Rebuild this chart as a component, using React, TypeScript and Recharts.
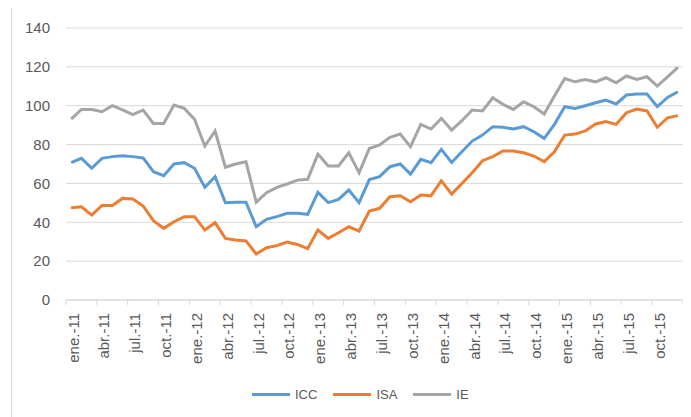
import { CartesianGrid, Legend, Line, LineChart, XAxis, YAxis } from "recharts"

const monthNames = ["ene.", "feb.", "mar.", "abr.", "may.", "jun.", "jul.", "ago.", "sep.", "oct.", "nov.", "dic."]
const years = ["11", "12", "13", "14", "15"]
const categories = years.flatMap((y) => monthNames.map((m) => `${m}-${y}`))

const icc = [
  70.7, 72.9, 67.8, 72.9, 73.8, 74.3, 73.8, 73.1, 66, 64, 70, 70.7,
  67.8, 58, 63.5, 50.1, 50.3, 50.3, 37.7, 41.5, 42.9, 44.6, 44.6, 44.1,
  55.4, 50.1, 51.8, 56.6, 50.1, 62, 63.5, 68.6, 70, 64.8, 72.4, 70.7,
  77.5, 70.8, 76.3, 81.8, 84.9, 89.2, 88.9, 88, 89.2, 86.6, 83.2, 90.4,
  99.5, 98.6, 100, 101.5, 102.9, 100.9, 105.5, 106, 106, 99.5, 104.3, 107.2,
]
const isa = [
  47.5, 48, 43.7, 48.7, 48.7, 52.3, 52, 48.4, 40.8, 36.9, 40.3, 42.9,
  42.9, 36, 39.8, 31.7, 30.9, 30.4, 23.7, 26.9, 28, 29.8, 28.6, 26.4,
  36, 31.7, 34.6, 37.7, 35.5, 45.8, 47.2, 53.2, 53.7, 50.6, 54, 53.7,
  61.4, 54.5, 60, 65.5, 71.7, 73.8, 76.7, 76.7, 75.8, 74.1, 71.2, 76.3,
  84.9, 85.4, 87, 90.6, 91.8, 90.4, 96.4, 98.3, 97.3, 88.9, 93.8, 94.9,
]
const ie = [
  93.1, 98.1, 98, 96.9, 100, 97.8, 95.4, 97.8, 90.9, 90.9, 100.3, 98.6,
  93, 79.2, 87, 68.3, 70, 71.2, 50.3, 55.2, 58, 59.7, 61.7, 62.1,
  75.1, 69, 69, 75.8, 65.5, 78, 79.8, 83.7, 85.4, 78.9, 90.4, 88,
  93.5, 87.5, 92.3, 97.8, 97.3, 104.1, 100.7, 98.1, 102, 99.5, 95.7, 105,
  114, 112.3, 113.5, 112.3, 114.4, 111.8, 115.3, 113.5, 114.9, 110.1, 114.9, 119.7,
]
const seriesOrder = ["ICC", "ISA", "IE"]
const yTicks = [0, 20, 40, 60, 80, 100, 120, 140]

const data = categories.map((name, i) => ({ idx: i, name, ICC: icc[i], ISA: isa[i], IE: ie[i] }))
// tick marks sit between months, every 3rd boundary
const xTicks = Array.from({ length: 21 }, (_, k) => k * 3 - 0.5)

const font = "'Liberation Sans', Arial, sans-serif"
const textColor = "#595959"
const gridColor = "#d9d9d9"

function MonthTick(props: any) {
  const { x, y, payload } = props
  const label = categories[payload.value + 0.5]
  if (!label) return null
  const tx = x + 7
  const ty = y + 6
  return (
    <text
      x={tx}
      y={ty}
      transform={`rotate(-90, ${tx}, ${ty})`}
      textAnchor="end"
      dominantBaseline="central"
      fill={textColor}
      fontSize={15}
      fontFamily={font}
    >
      {label}
    </text>
  )
}

function LegendContent(props: any) {
  const items = [...(props.payload || [])].sort(
    (a: any, b: any) => seriesOrder.indexOf(a.value) - seriesOrder.indexOf(b.value)
  )
  return (
    <div style={{ display: "flex", alignItems: "center", height: 18, fontFamily: font, fontSize: 13, color: textColor }}>
      {items.map((p: any) => (
        <div key={p.value} style={{ display: "flex", alignItems: "center", marginRight: 16 }}>
          <div style={{ width: 38, height: 3, background: p.color, marginRight: 5 }} />
          <span>{p.value}</span>
        </div>
      ))}
    </div>
  )
}

export default function App() {
  return (
    <div style={{ position: "relative", width: 683, height: 409 }}>
      <div
        style={{
          position: "absolute",
          left: 3,
          top: -1,
          width: 690,
          height: 420,
          border: `1px solid ${gridColor}`,
        }}
      />
      <LineChart width={683} height={409} data={data} margin={{ top: 20, right: 8, bottom: 0, left: 0 }}>
        <CartesianGrid vertical={false} stroke={gridColor} />
        <XAxis
          dataKey="idx"
          type="number"
          domain={[-0.5, 59.5]}
          ticks={xTicks}
          interval={0}
          height={117}
          stroke={gridColor}
          tickSize={5}
          tick={<MonthTick />}
        />
        <YAxis
          domain={[0, 140]}
          ticks={yTicks}
          width={58}
          axisLine={false}
          tickLine={false}
          tickMargin={10}
          tick={{ fill: textColor, fontSize: 15, fontFamily: font }}
        />
        <Legend
          verticalAlign="middle"
          layout="horizontal"
          align="center"
          wrapperStyle={{ top: 377, left: 244, width: "auto" }}
          content={<LegendContent />}
        />
        <Line dataKey="ICC" stroke="#5b9bd5" strokeWidth={3} dot={false} isAnimationActive={false} />
        <Line dataKey="ISA" stroke="#ed7d31" strokeWidth={3} dot={false} isAnimationActive={false} />
        <Line dataKey="IE" stroke="#a5a5a5" strokeWidth={3} dot={false} isAnimationActive={false} />
      </LineChart>
    </div>
  )
}
